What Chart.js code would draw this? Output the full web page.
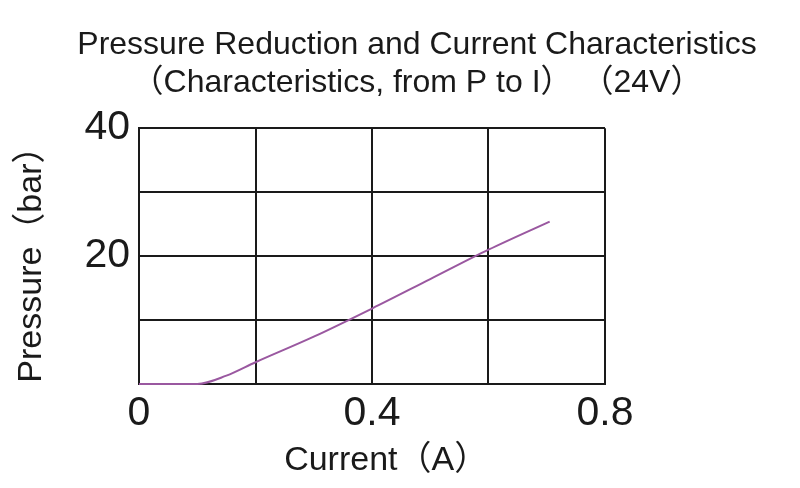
<!DOCTYPE html>
<html>
<head>
<meta charset="utf-8">
<script src="https://cdn.jsdelivr.net/npm/chart.js@4"></script>
<style>
    html, body { margin: 0; padding: 0; background: #fff; }
    #wrap { width: 800px; height: 488px; }
</style>
</head>
<body>
<div id="wrap"><canvas id="chart"></canvas></div>
<script>
// ============================
// Data
// ============================

const currentValues = [0, 0.1, 0.15, 0.2, 0.3, 0.4, 0.5, 0.6, 0.705];
const pressureValues = [0, 0, 1.3, 3.4, 7.4, 11.8, 16.4, 21.0, 25.4];

const xTickLabels = ['0', '0.4', '0.8'];
const yTickLabels = ['20', '40'];

const titleLines = [
    'Pressure Reduction and Current Characteristics',
    '\uFF08Characteristics, from P to I\uFF09 \uFF0824V\uFF09'
];
const xTitle = '   Current\uFF08A\uFF09';
const yTitle = 'Pressure\uFF08bar\uFF09';

// ============================
// Chart
// ============================

const FONT = "'Liberation Sans', Arial, 'Noto Sans CJK SC', sans-serif";
const INK = '#1a1a1a';
const LINE_COLOR = '#9a58a0';

const points = currentValues.map((c, i) => ({ x: c, y: pressureValues[i] }));

const ctx = document.getElementById('chart').getContext('2d');

new Chart(ctx, {
    type: 'line',
    data: {
        datasets: [{
            data: points,
            borderColor: LINE_COLOR,
            borderWidth: 2,
            pointRadius: 0,
            cubicInterpolationMode: 'monotone',
            fill: false,
            clip: false
        }]
    },
    options: {
        responsive: true,
        maintainAspectRatio: false,
        animation: false,
        layout: {
            padding: { left: 34, right: 0, top: 0, bottom: 0 }
        },
        scales: {
            x: {
                type: 'linear',
                min: 0,
                max: 0.8,
                afterFit: (scale) => { scale.height = 104; },
                ticks: {
                    stepSize: 0.2,
                    color: INK,
                    padding: 5,
                    maxRotation: 0,
                    autoSkip: false,
                    font: { family: FONT, size: 41 },
                    callback: (v) => {
                        const label = String(Math.round(v * 10) / 10);
                        return xTickLabels.includes(label) ? label : '';
                    }
                },
                grid: {
                    color: INK,
                    lineWidth: 2,
                    drawTicks: false
                },
                border: { color: INK, width: 2 },
                title: {
                    display: true,
                    text: xTitle,
                    color: INK,
                    padding: { top: 0, bottom: 7 },
                    font: { family: FONT, size: 34 }
                }
            },
            y: {
                min: 0,
                max: 40,
                afterFit: (scale) => { scale.width = 105; },
                ticks: {
                    stepSize: 10,
                    color: INK,
                    padding: 9,
                    font: { family: FONT, size: 41 },
                    callback: (v) => yTickLabels.includes(String(v)) ? String(v) : ''
                },
                grid: {
                    color: INK,
                    lineWidth: 2,
                    drawTicks: false
                },
                border: { color: INK, width: 2 },
                title: {
                    display: true,
                    text: yTitle,
                    color: INK,
                    padding: { top: -23, bottom: 0 },
                    font: { family: FONT, size: 34 }
                }
            },
            // empty space on the right of the plot
            spacer: {
                position: 'right',
                afterFit: (scale) => { scale.width = 195; },
                grid: { display: false },
                border: { display: false },
                ticks: { display: false }
            }
        },
        plugins: {
            legend: { display: false },
            tooltip: { enabled: false },
            title: {
                display: true,
                text: titleLines,
                color: INK,
                padding: { top: 26, bottom: 26 },
                font: { family: FONT, size: 32, weight: 'normal', lineHeight: 1.19 }
            }
        }
    }
});
</script>
</body>
</html>
